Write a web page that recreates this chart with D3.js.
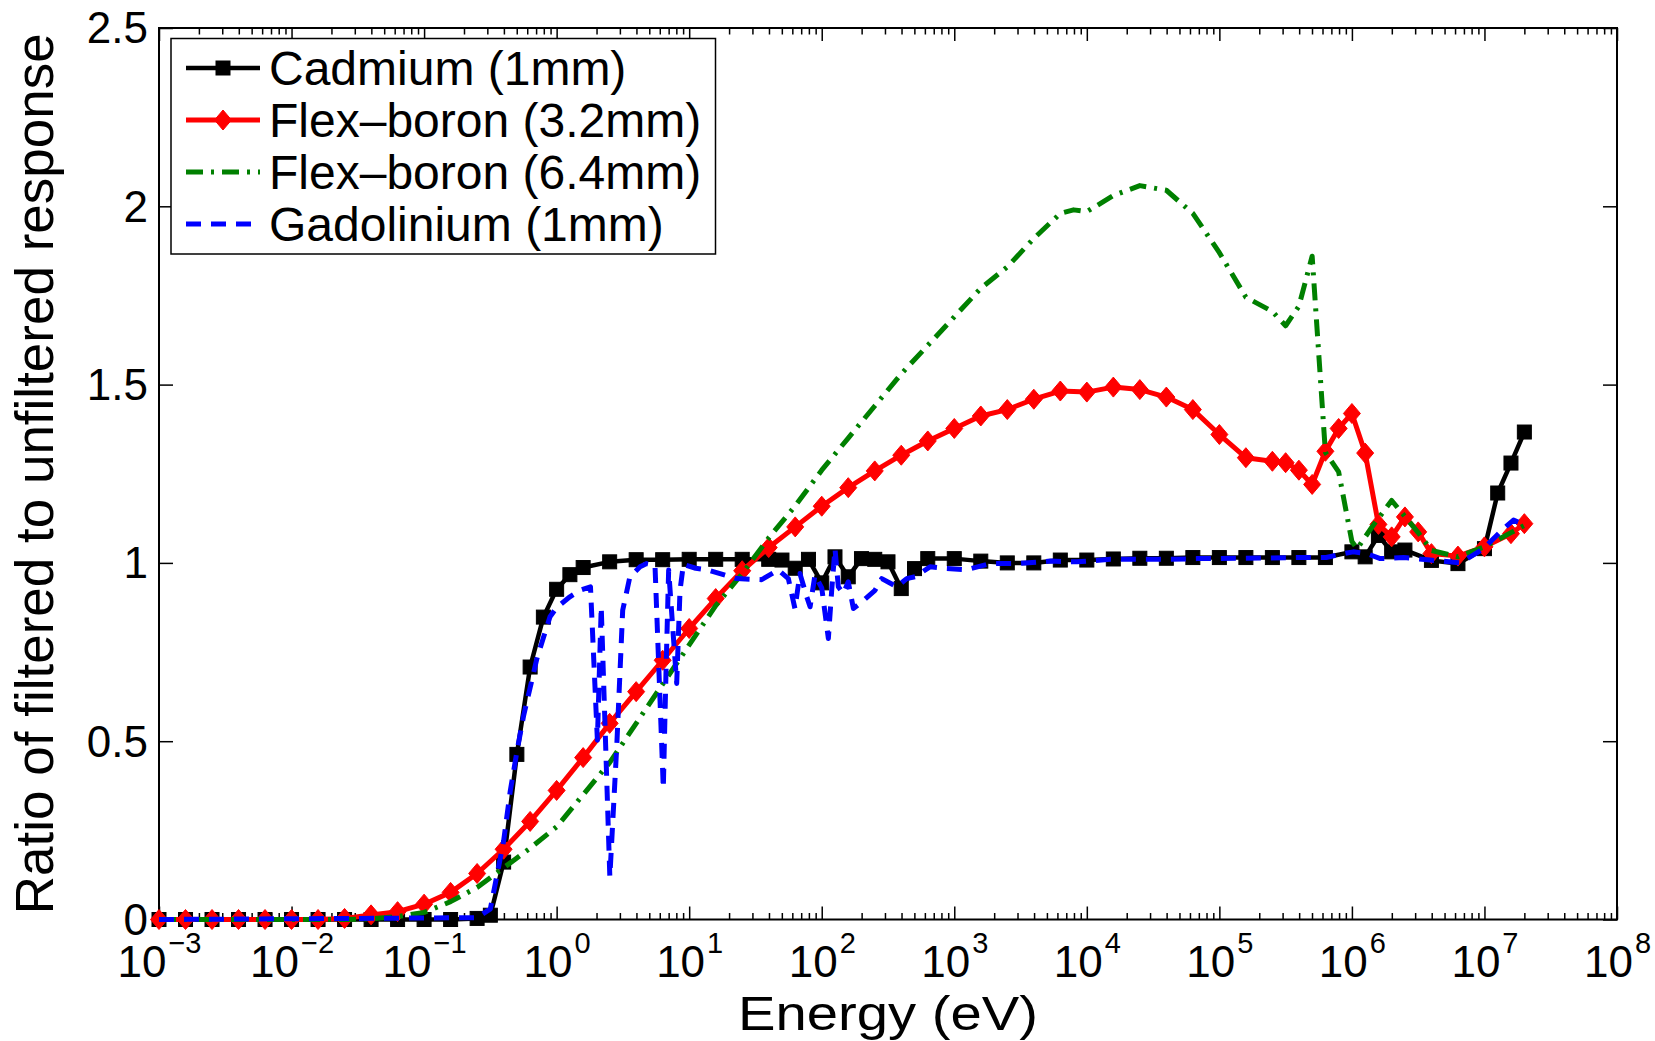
<!DOCTYPE html>
<html>
<head>
<meta charset="utf-8">
<script src="https://cdn.jsdelivr.net/npm/d3@7"></script>
<style>
  body { margin: 0; background: #ffffff; }
  text { font-family: "Liberation Sans", Arial, sans-serif; fill: #000; }
</style>
</head>
<body>
<script>
// filtered / unfiltered detector response vs neutron energy

var legendLabels = ["Cadmium (1mm)", "Flex\u2013boron (3.2mm)", "Flex\u2013boron (6.4mm)", "Gadolinium (1mm)"];
var yTickValues = [0, 0.5, 1, 1.5, 2, 2.5];
var yTickLabels = ["0", "0.5", "1", "1.5", "2", "2.5"];
var xTickExponents = [-3, -2, -1, 0, 1, 2, 3, 4, 5, 6, 7, 8];

// Cadmium (1mm), energy in eV
var cadmiumEnergy = [0.001, 0.001585, 0.002512, 0.003981, 0.00631, 0.01, 0.01585, 0.02512, 0.03981, 0.0631,
    0.1, 0.1585, 0.2512, 0.3162, 0.3981, 0.5012, 0.631, 0.7943, 1, 1.259,
    1.585, 2.512, 3.981, 6.31, 10, 15.85, 25.12, 39.81, 50.12, 63.1,
    79.43, 100, 125.9, 158.5, 199.5, 251.2, 316.2, 398.1, 501.2, 631,
    1000, 1585, 2512, 3981, 6310, 1e4, 15850, 25120, 39810, 63100,
    1e5, 158500, 251200, 398100, 631000, 1e6, 1.259e6, 1.585e6, 1.995e6, 2.512e6,
    3.981e6, 6.31e6, 1e7, 1.259e7, 1.585e7, 2e7];
var cadmiumRatio = [0, 0, 0, 0, 0, 0, 0, 0, 0, 0,
    0, 0, 0.003, 0.012, 0.161, 0.463, 0.708, 0.848, 0.926, 0.967,
    0.987, 1.003, 1.009, 1.009, 1.010, 1.010, 1.010, 1.010, 1.008, 0.985,
    1.010, 0.944, 1.017, 0.961, 1.012, 1.010, 1.003, 0.928, 0.984, 1.012,
    1.012, 1.005, 1.000, 1.000, 1.008, 1.008, 1.011, 1.013, 1.013, 1.015,
    1.015, 1.015, 1.015, 1.015, 1.015, 1.031, 1.017, 1.077, 1.031, 1.036,
    1.007, 0.998, 1.040, 1.196, 1.280, 1.367];

// Flex-boron (3.2mm)
var boron32Energy = [0.001, 0.001585, 0.002512, 0.003981, 0.00631, 0.01, 0.01585, 0.02512, 0.03981, 0.0631,
    0.1, 0.1585, 0.2512, 0.3981, 0.631, 1, 1.585, 2.512, 3.981, 6.31,
    10, 15.85, 25.12, 39.81, 63.1, 100, 158.5, 251.2, 398.1, 631,
    1000, 1585, 2512, 3981, 6310, 1e4, 15850, 25120, 39810, 63100,
    1e5, 158500, 251200, 316200, 398100, 501200, 631000, 794300, 1e6, 1.259e6,
    1.585e6, 1.995e6, 2.512e6, 3.162e6, 3.981e6, 6.31e6, 1e7, 1.585e7, 2e7];
var boron32Ratio = [0, 0, 0, 0, 0, 0, 0, 0.003, 0.013, 0.022,
    0.043, 0.076, 0.129, 0.197, 0.275, 0.362, 0.454, 0.550, 0.639, 0.727,
    0.816, 0.900, 0.978, 1.043, 1.101, 1.159, 1.211, 1.258, 1.302, 1.342,
    1.377, 1.412, 1.430, 1.459, 1.482, 1.479, 1.493, 1.486, 1.465, 1.430,
    1.360, 1.295, 1.285, 1.281, 1.260, 1.220, 1.313, 1.377, 1.419, 1.308,
    1.108, 1.073, 1.129, 1.087, 1.026, 1.019, 1.045, 1.082, 1.110];

// Flex-boron (6.4mm)
var boron64Energy = [0.001, 0.02512, 0.03981, 0.0631, 0.1, 0.1585, 0.2512, 0.3981, 0.631, 1,
    1.585, 2.512, 3.981, 6.31, 10, 15.85, 25.12, 39.81, 63.1, 100,
    158.5, 251.2, 398.1, 631, 1000, 1585, 2512, 3981, 6310, 7943,
    1e4, 15850, 25120, 39810, 63100, 1e5, 158500, 251200, 316200, 398100,
    501200, 631000, 794300, 1e6, 1.096e6, 1.413e6, 1.995e6, 2.512e6, 3.162e6, 3.981e6,
    6.31e6, 1e7, 1.585e7, 2e7];
var boron64Ratio = [0, 0, 0.002, 0.008, 0.02, 0.05, 0.09, 0.145, 0.2, 0.26,
    0.35, 0.44, 0.55, 0.66, 0.77, 0.88, 0.97, 1.07, 1.16, 1.26,
    1.35, 1.44, 1.53, 1.61, 1.69, 1.77, 1.83, 1.91, 1.98, 1.99,
    1.985, 2.03, 2.058, 2.045, 1.98, 1.87, 1.745, 1.705, 1.665, 1.72,
    1.86, 1.31, 1.255, 1.06, 1.04, 1.10, 1.175, 1.13, 1.085, 1.035,
    1.017, 1.045, 1.085, 1.105];

// Gadolinium (1mm)
var gdEnergy = [0.001, 0.2512, 0.3162, 0.3981, 0.4467, 0.5012, 0.5623, 0.631, 0.7079, 0.7943,
    0.8913, 1, 1.259, 1.5, 1.8, 2.03, 2.17, 2.52, 2.84, 3.15,
    3.57, 4.26, 4.78, 5.52, 6.38, 6.68, 7.0, 8.05, 8.53, 9.04,
    11.2, 13.55, 22.8, 35.2, 47, 56, 62.8, 68.5, 77.1, 81.7,
    88.9, 100, 112.2, 118.9, 125.9, 133.4, 145.5, 158.5, 173.4, 194.5,
    252.3, 283.8, 368.1, 437.5, 505.8, 656.1, 877, 1242, 1862, 2965,
    5284, 8414, 15000, 25120, 40180, 67610, 158500, 398100, 639700, 865000,
    1.023e6, 1.297e6, 1.637e6, 2.455e6, 3.89e6, 6.577e6, 9.84e6, 1.393e7, 1.656e7, 2.03e7];
var gdRatio = [0, 0.005, 0.03, 0.22, 0.36, 0.47, 0.57, 0.65, 0.73, 0.79,
    0.849, 0.875, 0.905, 0.923, 0.933, 0.503, 0.877, 0.12, 0.484, 0.867,
    0.961, 0.989, 0.998, 0.994, 0.368, 0.69, 0.98, 0.662, 0.923, 0.996,
    0.985, 0.981, 0.956, 0.953, 0.98, 0.956, 0.872, 0.970, 0.905, 0.877,
    0.966, 0.93, 0.788, 0.923, 1.040, 0.933, 0.914, 0.947, 0.872, 0.886,
    0.923, 0.956, 0.933, 0.956, 0.961, 0.989, 0.984, 0.981, 0.998, 0.998,
    1.005, 1.003, 1.01, 1.01, 1.01, 1.012, 1.013, 1.015, 1.015, 1.026,
    1.031, 1.026, 1.012, 1.015, 1.008, 1.000, 1.040, 1.096, 1.12, 1.106];

var width = 1655;
var height = 1041;
var plotLeft = 159;
var plotRight = 1617;
var plotTop = 28;
var plotBottom = 919.5;

var svg = d3.select("body").append("svg")
    .attr("width", width)
    .attr("height", height);

svg.append("rect")
    .attr("width", width)
    .attr("height", height)
    .attr("fill", "#ffffff");

var x = d3.scaleLog().domain([1e-3, 1e8]).range([plotLeft, plotRight]);
var y = d3.scaleLinear().domain([0, 2.5]).range([plotBottom, plotTop]);

// minor ticks 2..9 in every decade
var minorTicks = [];
xTickExponents.slice(0, -1).forEach(function (e) {
    for (var k = 2; k <= 9; k++) minorTicks.push(k * Math.pow(10, e));
});
var majorTicks = xTickExponents.map(function (e) { return Math.pow(10, e); });

var axes = svg.append("g").attr("class", "axes");

function cleanAxis(g) {
    g.select(".domain").remove();
    g.selectAll(".tick line").attr("stroke", "#000").attr("stroke-width", 1.5);
}

// bottom axis, ticks pointing in
axes.append("g")
    .attr("transform", "translate(0," + plotBottom + ")")
    .call(d3.axisBottom(x).tickValues(minorTicks).tickSize(-6.5).tickFormat(""))
    .call(cleanAxis);
var xBottom = axes.append("g")
    .attr("transform", "translate(0," + plotBottom + ")")
    .call(d3.axisBottom(x).tickValues(majorTicks).tickSize(-13).tickFormat(""))
    .call(cleanAxis);

// top axis
axes.append("g")
    .attr("transform", "translate(0," + plotTop + ")")
    .call(d3.axisTop(x).tickValues(minorTicks).tickSize(-6.5).tickFormat(""))
    .call(cleanAxis);
axes.append("g")
    .attr("transform", "translate(0," + plotTop + ")")
    .call(d3.axisTop(x).tickValues(majorTicks).tickSize(-13).tickFormat(""))
    .call(cleanAxis);

// left + right axes
var yLeft = axes.append("g")
    .attr("transform", "translate(" + plotLeft + ",0)")
    .call(d3.axisLeft(y).tickValues(yTickValues).tickSize(-14).tickPadding(11)
        .tickFormat(function (d, i) { return yTickLabels[i]; }))
    .call(cleanAxis);
yLeft.selectAll(".tick text")
    .attr("font-size", 44)
    .attr("font-family", "Liberation Sans, Arial, sans-serif")
    .attr("dy", "0.34em");

axes.append("g")
    .attr("transform", "translate(" + plotRight + ",0)")
    .call(d3.axisRight(y).tickValues(yTickValues).tickSize(-14).tickFormat(""))
    .call(cleanAxis);

// x tick labels 10^n
xBottom.selectAll(".tick").each(function (d, i) {
    var t = d3.select(this).append("text")
        .attr("x", 0)
        .attr("y", 57.5)
        .attr("text-anchor", "middle")
        .attr("font-family", "Liberation Sans, Arial, sans-serif")
        .attr("fill", "#000");
    t.append("tspan").attr("font-size", 44).text("10");
    t.append("tspan")
        .attr("font-size", 29)
        .attr("dx", 2)
        .attr("dy", -24)
        .text(String(xTickExponents[i]).replace("-", "\u2212"));
});

// frame
svg.append("rect")
    .attr("x", plotLeft)
    .attr("y", plotTop)
    .attr("width", plotRight - plotLeft)
    .attr("height", plotBottom - plotTop)
    .attr("fill", "none")
    .attr("stroke", "#000")
    .attr("stroke-width", 2);

// series
var series = [
    {label: legendLabels[0], energy: cadmiumEnergy, ratio: cadmiumRatio, color: "#000000", width: 4.5, dash: null, marker: "square"},
    {label: legendLabels[1], energy: boron32Energy, ratio: boron32Ratio, color: "#ff0000", width: 5, dash: null, marker: "diamond"},
    {label: legendLabels[2], energy: boron64Energy, ratio: boron64Ratio, color: "#008000", width: 5, dash: "17,8,3,8", marker: null},
    {label: legendLabels[3], energy: gdEnergy, ratio: gdRatio, color: "#0000ff", width: 5, dash: "15,10", marker: null}
];

var line = d3.line()
    .x(function (d) { return x(d[0]); })
    .y(function (d) { return y(d[1]); });

function drawMarker(g, type, color, cx, cy) {
    if (type === "square") {
        g.append("rect")
            .attr("x", cx - 7).attr("y", cy - 7)
            .attr("width", 14).attr("height", 14)
            .attr("fill", color).attr("stroke", color).attr("stroke-width", 1);
    } else if (type === "diamond") {
        g.append("path")
            .attr("d", "M" + cx + "," + (cy - 10) + "L" + (cx + 8.5) + "," + cy +
                "L" + cx + "," + (cy + 10) + "L" + (cx - 8.5) + "," + cy + "Z")
            .attr("fill", color).attr("stroke", color).attr("stroke-width", 1);
    }
}

var plot = svg.append("g").attr("class", "plot");

series.forEach(function (s) {
    var pts = d3.zip(s.energy, s.ratio);
    var g = plot.append("g");
    g.append("path")
        .datum(pts)
        .attr("d", line)
        .attr("fill", "none")
        .attr("stroke", s.color)
        .attr("stroke-width", s.width)
        .attr("stroke-linejoin", "round")
        .attr("stroke-dasharray", s.dash);
    if (s.marker) {
        pts.forEach(function (p) {
            drawMarker(g, s.marker, s.color, x(p[0]), y(p[1]));
        });
    }
});

// legend
var legend = svg.append("g").attr("class", "legend");
legend.append("rect")
    .attr("x", 171)
    .attr("y", 38.5)
    .attr("width", 544.5)
    .attr("height", 215.5)
    .attr("fill", "#ffffff")
    .attr("stroke", "#000")
    .attr("stroke-width", 1.5);

series.forEach(function (s, i) {
    var ry = 68 + i * 52;
    legend.append("line")
        .attr("x1", 186).attr("x2", 260)
        .attr("y1", ry).attr("y2", ry)
        .attr("stroke", s.color)
        .attr("stroke-width", s.width)
        .attr("stroke-dasharray", s.dash);
    if (s.marker) drawMarker(legend, s.marker, s.color, 223, ry);
    legend.append("text")
        .attr("x", 269)
        .attr("y", ry)
        .attr("dy", "0.36em")
        .attr("font-size", 48)
        .text(s.label);
});

// axis titles (x title is a bit wider than Arial in the original)
svg.append("text")
    .attr("x", (plotLeft + plotRight) / 2)
    .attr("y", 1030)
    .attr("text-anchor", "middle")
    .attr("font-size", 48)
    .attr("textLength", 300)
    .attr("lengthAdjust", "spacingAndGlyphs")
    .text("Energy (eV)");

svg.append("text")
    .attr("transform", "translate(53," + ((plotTop + plotBottom) / 2) + ") rotate(-90)")
    .attr("text-anchor", "middle")
    .attr("font-size", 53)
    .text("Ratio of filtered to unfiltered response");
</script>
</body>
</html>
